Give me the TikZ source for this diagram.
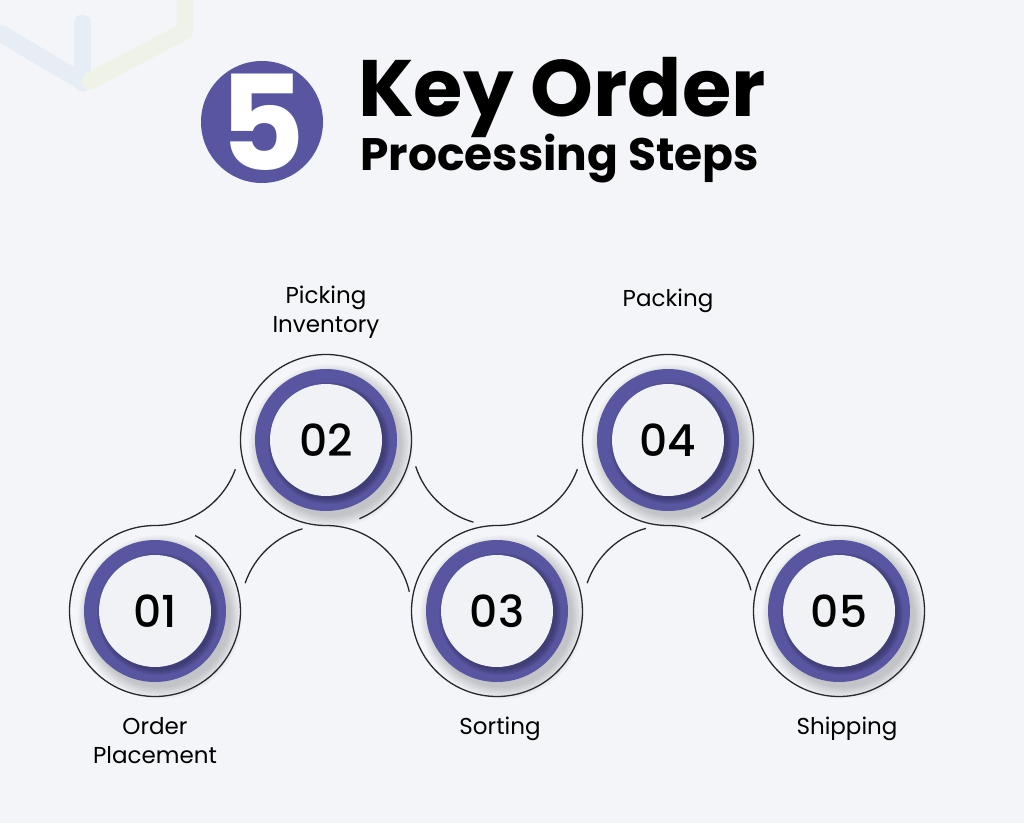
\documentclass[tikz,border=0pt]{standalone}
\usepackage{fontspec}
\setmainfont{Poppins}
\newfontfamily\numfont{Poppins Medium}
\usetikzlibrary{positioning}

\definecolor{ringpurple}{RGB}{88,86,160}
\definecolor{bgcol}{RGB}{243,245,248}
\definecolor{linecol}{RGB}{40,40,44}
\definecolor{disccol}{RGB}{240,242,245}
\definecolor{cubeblue}{RGB}{231,237,245}
\definecolor{cubeyellow}{RGB}{239,243,231}

\begin{document}
\begin{tikzpicture}[x=1pt,y=1pt,
  ring/.style={circle,fill=ringpurple,minimum size=142pt,inner sep=0pt},
  disc/.style={circle,fill=disccol,minimum size=112pt,inner sep=0pt,
    font=\numfont\fontsize{44}{44}\selectfont},
  outline/.style={line width=1.3pt,draw=linecol},
  steplabel/.style={align=center,inner sep=0pt,font=\fontsize{23}{29}\selectfont},
  cube/.style={line width=17pt,line cap=round,line join=round}]

% background
\fill[bgcol] (0,0) rectangle (1024,823);
\useasboundingbox (0,0) rectangle (1024,823);
\draw[cube,cubeblue] (0,790) -- (76,745);
\draw[cube,cubeblue] (82,800) -- (82,740);
\draw[cube,cubeyellow] (90,742) -- (185,792) -- (185,830);

% title
\node[circle,fill=ringpurple,minimum size=122pt,inner sep=0pt,
  label={[text=white,font=\bfseries\fontsize{132}{132}\selectfont]center:5}]
  (five) at (262,701) {};
\node[anchor=base west,inner sep=0pt,text depth=0pt,
  font=\bfseries\fontsize{80}{80}\selectfont] (keyorder) at (358,706) {Key Order};
\node[anchor=base west,inner sep=0pt,font=\bfseries\fontsize{45.5}{45.5}\selectfont]
  (procsteps) at (360,652) {Processing Steps};

% empty places between the steps
\coordinate (p1) at (155,383);
\coordinate (q2) at (326,212);
\coordinate (p3) at (497,383);
\coordinate (q4) at (668,212);
\coordinate (p5) at (839,383);

% the five steps
\foreach \n/\x/\y in {1/155/212,2/326/383,3/497/212,4/668/383,5/839/212} {
  \foreach \k in {0,...,9}
    \fill[black,opacity=0.02] (\x+5,\y-6) circle ({82-\k*1.3});
  \node[ring] (ring\n) at (\x,\y) {};
  \foreach \k in {0,...,5}
    \fill[ringpurple!55!black,opacity=0.12] (\x+3,\y-3) circle ({61-\k*1});
  \node[disc] (step\n) at (\x,\y) {0\n};
}

% the wavy line
\foreach \c/\a/\b in {ring1/90/422, p1/270/340, ring2/-67/270, q2/13/90,
    q2/106/161, p3/198/254, p3/270/340, ring3/90/422, ring4/-67/270,
    q4/14/90, q4/105/161, p5/200/270, ring5/117/450}
  \draw[outline] ([shift={(\a:85.5)}]\c.center) arc[start angle=\a,end angle=\b,radius=85.5];

% labels
\node[steplabel,anchor=north,below=35pt of ring1] (lab1) {Order\\Placement};
\node[steplabel,anchor=south,above=30pt of ring2] (lab2) {Picking\\Inventory};
\node[steplabel,anchor=north,below=35pt of ring3,xshift=3pt] (lab3) {Sorting};
\node[steplabel,anchor=south,above=56pt of ring4] (lab4) {Packing};
\node[steplabel,anchor=north,below=35pt of ring5,xshift=8pt] (lab5) {Shipping};
\end{tikzpicture}
\end{document}
